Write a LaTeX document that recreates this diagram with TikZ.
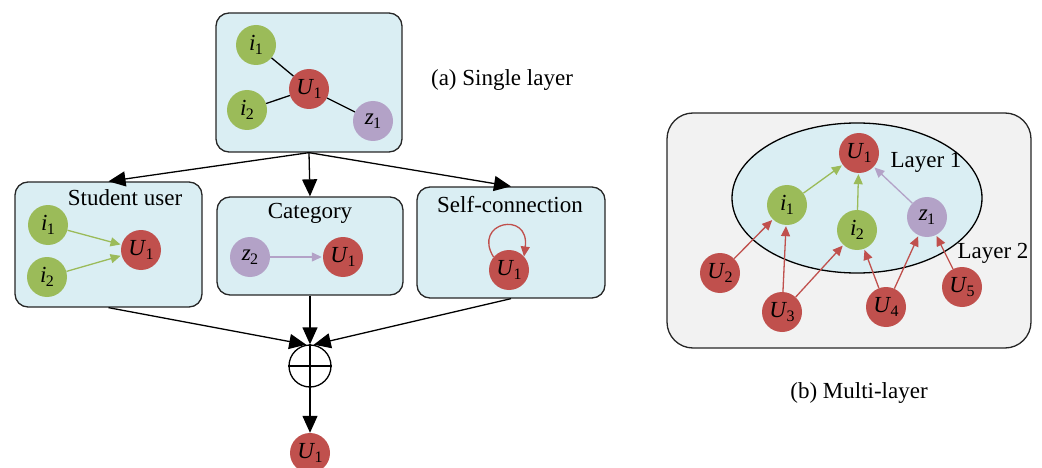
\documentclass[tikz,border=0pt]{standalone}
\usepackage{fontspec}
\setmainfont{Liberation Serif}
\newfontfamily\tnr{Liberation Serif}
\usetikzlibrary{arrows.meta,calc,shapes.geometric}
\definecolor{nred}{HTML}{C0504D}
\definecolor{ngreen}{HTML}{9BBB59}
\definecolor{npurple}{HTML}{B3A2C7}
\definecolor{boxblue}{HTML}{DAEEF3}
\definecolor{boxgray}{HTML}{F2F2F2}
\definecolor{edgegray}{HTML}{262626}
\newcommand\vlab[2]{\textit{#1}\kern-0.5pt\raisebox{-0.4ex}{\fontsize{16}{16}\selectfont #2}}
\begin{document}
\begin{tikzpicture}[x=1pt,y=1pt,
  font=\tnr\fontsize{23}{25}\selectfont,
  panel/.style={draw=edgegray, line width=1.3pt, fill=boxblue, rounded corners=13pt, inner sep=0pt},
  vnode/.style={circle, minimum size=40pt, inner sep=0pt},
  vred/.style={vnode, fill=nred},
  vgreen/.style={vnode, fill=ngreen},
  vpurple/.style={vnode, fill=npurple},
  blk/.style={-{Triangle[length=17pt,width=15pt]}, line width=1.3pt, black},
  plain/.style={line width=1.3pt, black},
  garrow/.style={-{Triangle[length=10pt,width=9pt]}, line width=1.3pt, ngreen, shorten >=1pt},
  parrow/.style={-{Triangle[length=10pt,width=9pt]}, line width=1.3pt, npurple, shorten >=1pt},
  rarrow/.style={-{Triangle[length=10pt,width=9pt]}, line width=1.3pt, nred, shorten >=1pt},
  lbl/.style={inner sep=0pt}
]
\useasboundingbox (0,0) rectangle (1042,-468);

% ---------- (a) single layer ----------
\node[panel, minimum width=186pt, minimum height=139pt] (top) at (309,-82.5) {};
\node[vgreen] (ti1) at (256,-45) {\vlab{i}{1}};
\node[vred] (tu1) at (309,-89) {\vlab{U}{1}};
\node[vgreen] (ti2) at (247,-110) {\vlab{i}{2}};
\node[vpurple] (tz1) at (373,-121) {\vlab{z}{1}};
\draw[plain] (ti1) -- (tu1);
\draw[plain] (ti2) -- (tu1);
\draw[plain] (tz1) -- (tu1);

\node[lbl] (capa) at (502,-80) {(a) Single layer};

\node[panel, minimum width=187pt, minimum height=125pt] (stud) at (108.5,-244.5) {};
\node[panel, minimum width=186pt, minimum height=98pt] (cat) at (310,-246) {};
\node[panel, minimum width=188pt, minimum height=111pt] (self) at (511,-242.5) {};

\node[lbl] (studt) at (125,-198) {Student user};
\node[lbl] (catt) at (310,-213) {Category};
\node[lbl] (selft) at (510,-205) {Self-connection};

\draw[blk] (top.south) -- (stud.north);
\draw[blk] (top.south) -- (cat.north);
\draw[blk] (top.south) -- (self.north);

% student user
\node[vgreen] (si1) at (48,-225) {\vlab{i}{1}};
\node[vgreen] (si2) at (47,-277) {\vlab{i}{2}};
\node[vred] (su1) at (141,-250) {\vlab{U}{1}};
\draw[garrow] (si1) -- (su1);
\draw[garrow] (si2) -- (su1);

% category
\node[vpurple] (cz2) at (250,-257) {\vlab{z}{2}};
\node[vred] (cu1) at (343,-257) {\vlab{U}{1}};
\draw[parrow] (cz2) -- (cu1);

% self connection
\node[vred] (xu1) at (509,-270) {\vlab{U}{1}};
\draw[line width=1.3pt, nred, -{Triangle[length=10pt,width=9pt]}]
  (xu1.140) .. controls (472,-222) and (530,-210) .. (xu1.42);

% aggregation
\node[circle, draw=black, line width=1.3pt, minimum size=42pt, inner sep=0pt] (op) at (310,-366) {};
\draw[plain] (op.north) -- (op.south);
\draw[plain] (op.west) -- (op.east);
\draw[blk] (stud.south) -- (op.100);
\draw[blk] (cat.south) -- (op.north);
\draw[blk] (self.south) -- (op.80);

\node[vred] (fu1) at (310,-453) {\vlab{U}{1}};
\draw[blk] (op.south) -- (fu1.north);

% ---------- (b) multi-layer ----------
\node[draw=edgegray, line width=1.3pt, fill=boxgray, rounded corners=26pt,
      minimum width=364pt, minimum height=235pt, inner sep=0pt] (outer) at (849,-230.5) {};
\node[ellipse, draw=black, line width=1.3pt, fill=boxblue, minimum width=250pt,
      minimum height=150pt, inner sep=0pt] (ell) at (857,-198) {};

\node[lbl] (l1) at (926,-162) {Layer 1};
\node[lbl] (l2) at (993,-253) {Layer 2};

\node[vred] (mu1) at (859,-153) {\vlab{U}{1}};
\node[vgreen] (mi1) at (787,-205) {\vlab{i}{1}};
\node[vgreen] (mi2) at (857,-230) {\vlab{i}{2}};
\node[vpurple] (mz1) at (927,-217) {\vlab{z}{1}};
\node[vred] (mu2) at (720,-273) {\vlab{U}{2}};
\node[vred] (mu3) at (782,-312) {\vlab{U}{3}};
\node[vred] (mu4) at (886,-307) {\vlab{U}{4}};
\node[vred] (mu5) at (962,-287) {\vlab{U}{5}};

\draw[garrow] (mi1) -- (mu1);
\draw[garrow] (mi2) -- (mu1);
\draw[parrow] (mz1) -- (mu1);
\draw[rarrow] (mu2) -- (mi1);
\draw[rarrow] (mu3) -- (mi1);
\draw[rarrow] (mu3) -- (mi2);
\draw[rarrow] (mu4) -- (mi2);
\draw[rarrow] (mu4) -- (mz1);
\draw[rarrow] (mu5) -- (mz1);

\node[lbl] (capb) at (859,-393) {(b) Multi-layer};
\end{tikzpicture}
\end{document}
